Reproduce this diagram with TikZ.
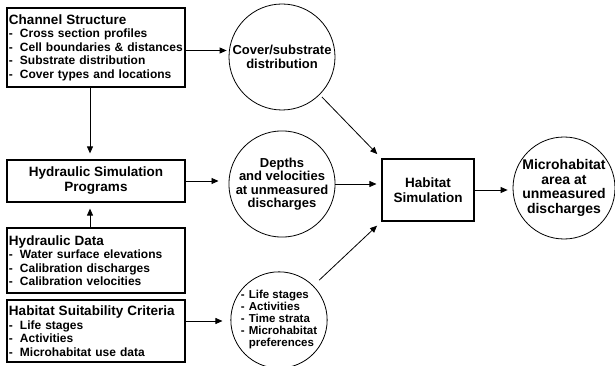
\documentclass[tikz,border=0pt]{standalone}
\usepackage{fontspec}
\setmainfont{Liberation Sans}
\usetikzlibrary{arrows.meta}
\newcommand{\itm}{\makebox[11pt][l]{-}}
\newcommand{\ttl}[1]{{\fontsize{13.5}{13.5}\selectfont #1}}
\begin{document}
\begin{tikzpicture}
	[x=1pt, y=-1pt,
	thick,
	>={Triangle[length=7pt,width=6pt]},
	block/.style = {draw, very thick, rectangle, inner xsep=2pt, text width=174pt, align=left, font=\bfseries\fontsize{12}{13.5}\selectfont},
	prog/.style = {draw, very thick, rectangle, align=center, font=\bfseries\fontsize{13.5}{15}\selectfont},
	bubble/.style = {draw, circle, inner sep=0pt, align=center, font=\bfseries\fontsize{13}{13.5}\selectfont}]
\useasboundingbox (0,0) rectangle (615,366);
\node[block, minimum height=79pt] (1) at (96,47.5) {\ttl{Channel Structure}\\ \itm Cross section profiles\\ \itm Cell boundaries \& distances\\ \itm Substrate distribution\\ \itm Cover types and locations};
\node[prog, minimum width=178pt, minimum height=42pt] (2) [below of=1, node distance=133.5pt] {Hydraulic Simulation\\ Programs};
\node[block, minimum height=65pt] (3) [below of=2, node distance=79.5pt] {\ttl{Hydraulic Data}\\ \itm Water surface elevations\\ \itm Calibration discharges\\ \itm Calibration velocities};
\node[block, minimum height=62pt] (4) [below of=3, node distance=70.5pt] {\ttl{Habitat Suitability Criteria}\\ \itm Life stages\\ \itm Activities\\ \itm Microhabitat use data};
\node[bubble, minimum size=106pt] (5) at (282,57) {Cover/substrate\\ distribution};
\node[bubble, minimum size=104pt] (6) at (282,184) {Depths\\ and velocities\\ at unmeasured\\ discharges};
\node[bubble, minimum size=92pt, align=left, font=\bfseries\fontsize{11.5}{12}\selectfont] (7) at (279,320) {\makebox[8pt][l]{-}Life stages\\ \makebox[8pt][l]{-}Activities\\ \makebox[8pt][l]{-}Time strata\\ \makebox[8pt][l]{-}Microhabitat\\ \hspace*{8pt}preferences};
\node[prog, minimum width=92pt, minimum height=62pt] (8) at (428,190) {Habitat\\ Simulation};
\node[bubble, minimum size=102pt, font=\bfseries\fontsize{14}{14.5}\selectfont] (9) at (564,188) {Microhabitat\\ area at\\ unmeasured\\ discharges};
\draw[->, shorten >=2pt] ([yshift=-3pt]1.east) -- ([yshift=-3pt]1.east -| 5.west);
\draw[->, shorten >=6pt] ([xshift=-6pt]1.south) -- ([xshift=-6pt]2.north);
\draw[->, shorten >=6pt] ([xshift=-6pt]3.north) -- ([xshift=-6pt]2.south);
\draw[->, shorten >=10pt] (2.east) -- (2.east -| 6.west);
\draw[->, shorten >=8pt] ([yshift=10pt]4.east) -- ([yshift=10pt]4.east -| 7.west);
\draw[->, shorten <=3pt, shorten >=6pt] (5.-45) -- (8.north west);
\draw[->, shorten >=5pt] (6.east) -- (6.east -| 8.west);
\draw[->, shorten <=8pt, shorten >=6pt] (7.45) -- (8.south west);
\draw[->, shorten >=5pt] (8.east) -- (8.east -| 9.west);
\end{tikzpicture}
\end{document}
